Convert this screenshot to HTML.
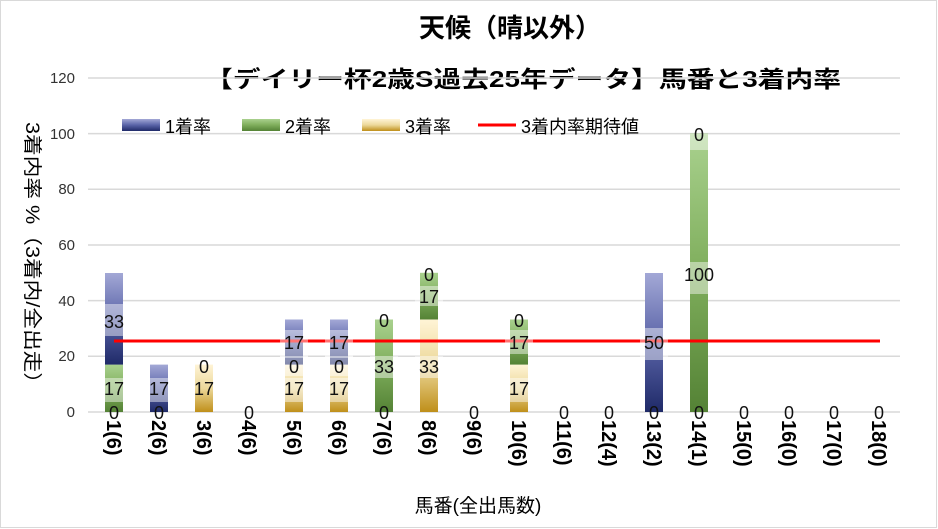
<!DOCTYPE html>
<html><head><meta charset="utf-8"><style>body{margin:0;background:#fff}svg{display:block}text{font-family:"Liberation Sans","Noto Sans CJK JP",sans-serif}</style></head><body>
<svg width="938" height="529" viewBox="0 0 938 529" xmlns="http://www.w3.org/2000/svg">
<defs>
<linearGradient id="b" x1="0" y1="1" x2="0" y2="0"><stop offset="0" stop-color="#1f2a68"/><stop offset="0.5" stop-color="#5a64a8"/><stop offset="1" stop-color="#a3a8d6"/></linearGradient>
<linearGradient id="g" x1="0" y1="1" x2="0" y2="0"><stop offset="0" stop-color="#548235"/><stop offset="0.5" stop-color="#7fae5c"/><stop offset="1" stop-color="#a9d18e"/></linearGradient>
<linearGradient id="y" x1="0" y1="1" x2="0" y2="0"><stop offset="0" stop-color="#bf8f1a"/><stop offset="0.5" stop-color="#ecd89a"/><stop offset="1" stop-color="#fff4d6"/></linearGradient>
</defs>
<rect x="0.5" y="0.5" width="936" height="527" fill="#fff" stroke="#d9d9d9"/>
<text x="510" y="37" font-size="26" font-weight="bold" text-anchor="middle">天候（晴以外）</text>
<text x="205" y="87" font-size="23" font-weight="bold" textLength="636" lengthAdjust="spacingAndGlyphs">【デイリー杯2歳S過去25年データ】馬番と3着内率</text>
<g stroke="#d9d9d9" stroke-width="1.5">
<line x1="88" x2="900" y1="412" y2="412"/><line x1="88" x2="900" y1="356.3" y2="356.3"/><line x1="88" x2="900" y1="300.6" y2="300.6"/><line x1="88" x2="900" y1="245" y2="245"/><line x1="88" x2="900" y1="189.3" y2="189.3"/><line x1="88" x2="900" y1="133.6" y2="133.6"/><line x1="88" x2="900" y1="78" y2="78"/>
</g>
<g font-size="15" text-anchor="end" fill="#333">
<text x="75" y="417">0</text><text x="75" y="361">20</text><text x="75" y="306">40</text><text x="75" y="250">60</text><text x="75" y="194">80</text><text x="75" y="139">100</text><text x="75" y="83">120</text>
</g>
<text transform="translate(26,122) rotate(90)" font-size="19" textLength="272" lengthAdjust="spacingAndGlyphs">3着内率 %（3着内/全出走）</text>
<g font-size="18">
<rect x="122" y="119" width="38" height="12" fill="url(#b)"/><text x="165" y="133">1着率</text>
<rect x="242" y="119" width="38" height="12" fill="url(#g)"/><text x="285" y="133">2着率</text>
<rect x="362" y="119" width="38" height="12" fill="url(#y)"/><text x="405" y="133">3着率</text>
<line x1="478" x2="516" y1="125" y2="125" stroke="#f00" stroke-width="3"/><text x="521" y="133">3着内率期待値</text>
</g>
<g>
<rect x="105" y="364.6" width="18" height="47.4" fill="url(#g)"/>
<rect x="105" y="273" width="18" height="91.6" fill="url(#b)"/>
<rect x="150" y="364.6" width="18" height="47.4" fill="url(#b)"/>
<rect x="195" y="364.6" width="18" height="47.4" fill="url(#y)"/>
<rect x="285" y="364.6" width="18" height="47.4" fill="url(#y)"/>
<rect x="285" y="319.5" width="18" height="45.1" fill="url(#b)"/>
<rect x="330" y="364.6" width="18" height="47.4" fill="url(#y)"/>
<rect x="330" y="319.5" width="18" height="45.1" fill="url(#b)"/>
<rect x="375" y="319.5" width="18" height="92.5" fill="url(#g)"/>
<rect x="420" y="319.5" width="18" height="92.5" fill="url(#y)"/>
<rect x="420" y="272.8" width="18" height="46.7" fill="url(#g)"/>
<rect x="510" y="364.6" width="18" height="47.4" fill="url(#y)"/>
<rect x="510" y="319.5" width="18" height="45.1" fill="url(#g)"/>
<rect x="645" y="273" width="18" height="139" fill="url(#b)"/>
<rect x="690" y="133.6" width="18" height="278.4" fill="url(#g)"/>
</g>
<line x1="114" x2="880" y1="341" y2="341" stroke="#f00" stroke-width="3"/>
<g fill="#fff" fill-opacity="0.45">
<rect x="100" y="378" width="28" height="24"/><rect x="100" y="304" width="28" height="32"/>
<rect x="145" y="378" width="28" height="24"/>
<rect x="280" y="378" width="28" height="24"/><rect x="280" y="356" width="28" height="20"/><rect x="280" y="330" width="28" height="28"/>
<rect x="325" y="378" width="28" height="24"/><rect x="325" y="356" width="28" height="20"/><rect x="325" y="330" width="28" height="28"/>
<rect x="370" y="356" width="28" height="22"/><rect x="415" y="356" width="28" height="22"/><rect x="415" y="286" width="28" height="20"/>
<rect x="505" y="378" width="28" height="24"/><rect x="505" y="330" width="28" height="24"/>
<rect x="640" y="328" width="28" height="32"/><rect x="690" y="262" width="18" height="32"/><rect x="690" y="134" width="18" height="16"/>
</g>
<g font-size="18" text-anchor="middle" fill="#111">
<text x="114" y="419">0</text><text x="114" y="395">17</text><text x="114" y="328">33</text>
<text x="159" y="419">0</text><text x="159" y="395">17</text>
<text x="204" y="395">17</text><text x="204" y="373">0</text>
<text x="249" y="419">0</text>
<text x="294" y="395">17</text><text x="294" y="373">0</text><text x="294" y="349">17</text>
<text x="339" y="395">17</text><text x="339" y="373">0</text><text x="339" y="349">17</text>
<text x="384" y="419">0</text><text x="384" y="373">33</text><text x="384" y="327">0</text>
<text x="429" y="373">33</text><text x="429" y="303">17</text><text x="429" y="281">0</text>
<text x="474" y="419">0</text>
<text x="519" y="395">17</text><text x="519" y="349">17</text><text x="519" y="327">0</text>
<text x="564" y="419">0</text><text x="609" y="419">0</text>
<text x="654" y="419">0</text><text x="654" y="349">50</text>
<text x="699" y="419">0</text><text x="699" y="281">100</text><text x="699" y="141">0</text>
<text x="744" y="419">0</text><text x="789" y="419">0</text><text x="834" y="419">0</text><text x="879" y="419">0</text>
</g>
<g font-size="20" font-weight="bold">
<text transform="translate(107,420) rotate(90)">1(6)</text>
<text transform="translate(152,420) rotate(90)">2(6)</text>
<text transform="translate(197,420) rotate(90)">3(6)</text>
<text transform="translate(242,420) rotate(90)">4(6)</text>
<text transform="translate(287,420) rotate(90)">5(6)</text>
<text transform="translate(332,420) rotate(90)">6(6)</text>
<text transform="translate(377,420) rotate(90)">7(6)</text>
<text transform="translate(422,420) rotate(90)">8(6)</text>
<text transform="translate(467,420) rotate(90)">9(6)</text>
<text transform="translate(512,420) rotate(90)">10(6)</text>
<text transform="translate(557,420) rotate(90)">11(6)</text>
<text transform="translate(602,420) rotate(90)">12(4)</text>
<text transform="translate(647,420) rotate(90)">13(2)</text>
<text transform="translate(692,420) rotate(90)">14(1)</text>
<text transform="translate(737,420) rotate(90)">15(0)</text>
<text transform="translate(782,420) rotate(90)">16(0)</text>
<text transform="translate(827,420) rotate(90)">17(0)</text>
<text transform="translate(872,420) rotate(90)">18(0)</text>
</g>
<text x="478" y="512" font-size="19" text-anchor="middle">馬番(全出馬数)</text>
</svg>
</body></html>
